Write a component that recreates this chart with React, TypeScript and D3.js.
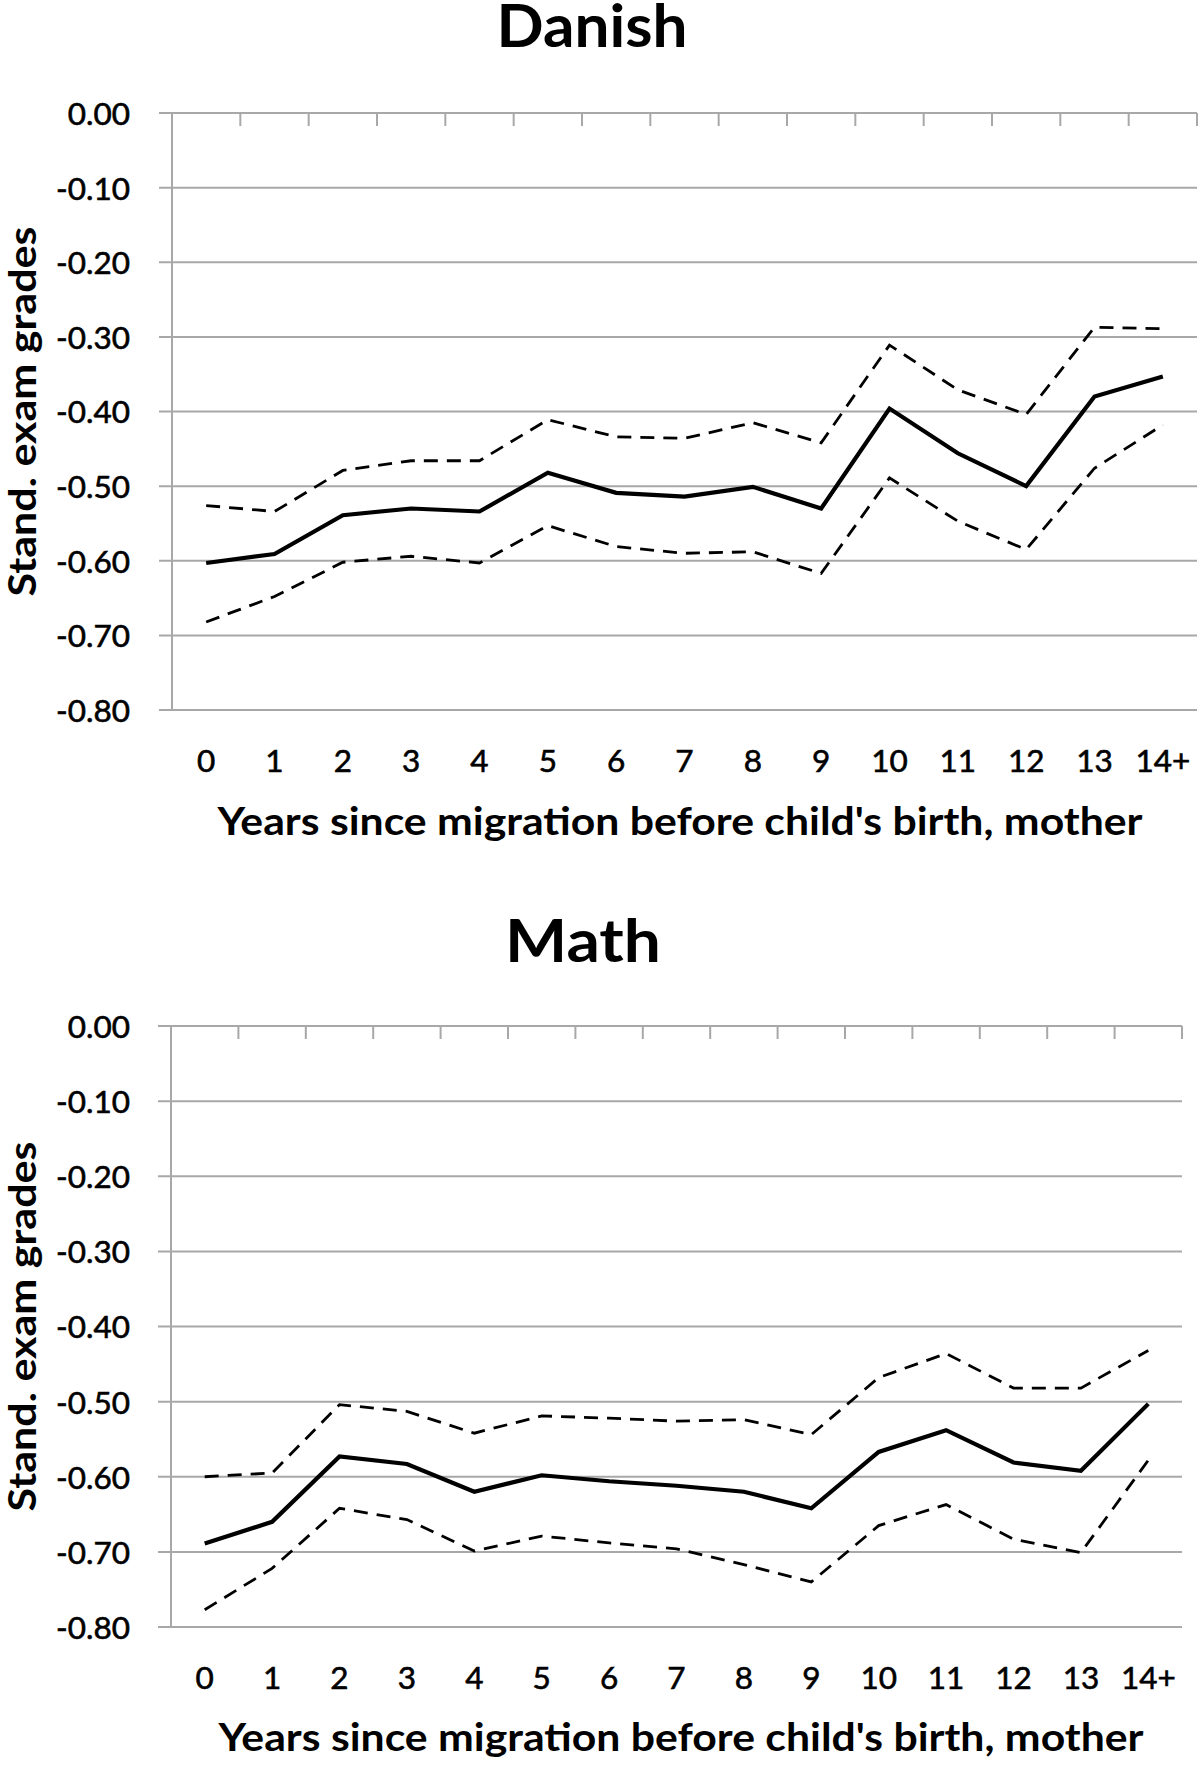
import React from "react";
import * as d3 from "d3";

const categories = ["0", "1", "2", "3", "4", "5", "6", "7", "8", "9", "10", "11", "12", "13", "14+"];
const yTicks = [0, -0.1, -0.2, -0.3, -0.4, -0.5, -0.6, -0.7, -0.8];

const danishMean = [-0.603, -0.591, -0.539, -0.530, -0.534, -0.482, -0.509, -0.514, -0.501, -0.530, -0.396, -0.456, -0.500, -0.380, -0.353];
const danishUpper = [-0.526, -0.534, -0.479, -0.466, -0.466, -0.411, -0.434, -0.436, -0.415, -0.442, -0.311, -0.371, -0.404, -0.287, -0.289];
const danishLower = [-0.682, -0.648, -0.602, -0.594, -0.603, -0.553, -0.581, -0.590, -0.588, -0.617, -0.489, -0.547, -0.585, -0.476, -0.418];

const mathMean = [-0.689, -0.660, -0.573, -0.583, -0.620, -0.598, -0.606, -0.612, -0.620, -0.642, -0.567, -0.538, -0.581, -0.592, -0.503];
const mathUpper = [-0.600, -0.595, -0.504, -0.513, -0.542, -0.519, -0.522, -0.526, -0.524, -0.544, -0.468, -0.436, -0.482, -0.482, -0.432];
const mathLower = [-0.777, -0.722, -0.642, -0.657, -0.699, -0.679, -0.688, -0.696, -0.717, -0.740, -0.665, -0.637, -0.683, -0.701, -0.578];

const FONT = "Lato, 'Open Sans', sans-serif";
const GRID = "#a8a8a8";

type PanelProps = {
  title: string;
  titleX: number;
  titleY: number;
  titleLen: number;
  top: number;
  bottom: number;
  left: number;
  right: number;
  tickLabelY: number;
  xTitleX: number;
  xTitleY: number;
  mean: number[];
  upper: number[];
  lower: number[];
};

function Panel(p: PanelProps) {
  const x = d3.scaleBand<string>().domain(categories).range([p.left, p.right]);
  const y = d3.scaleLinear().domain([0, -0.8]).range([p.top, p.bottom]);
  const line = d3
    .line<number>()
    .x((_, i) => (x(categories[i]) as number) + x.bandwidth() / 2)
    .y((v) => y(v));
  const boundaries = d3.range(categories.length + 1).map((i) => p.left + i * x.bandwidth());
  return (
    <g>
      <text
        x={p.titleX}
        y={p.titleY}
        textAnchor="middle"
        fontFamily={FONT}
        fontWeight={700}
        fontSize={59}
        textLength={p.titleLen}
        lengthAdjust="spacingAndGlyphs"
        fill="#000"
      >
        {p.title}
      </text>
      {yTicks.map((t) => (
        <g key={t}>
          <line x1={p.left - 13} x2={p.right} y1={y(t)} y2={y(t)} stroke={GRID} strokeWidth={2} />
          <text
            x={130}
            y={y(t)}
            dy="0.38em"
            textAnchor="end"
            fontFamily={FONT}
            fontSize={31.5}
            fill="#000"
            stroke="#000"
            strokeWidth={0.6}
          >
            {t.toFixed(2).replace("-0.00", "0.00")}
          </text>
        </g>
      ))}
      <line x1={p.left} x2={p.left} y1={p.top} y2={p.bottom} stroke={GRID} strokeWidth={2} />
      {boundaries.map((bx, i) => (
        <line key={i} x1={bx} x2={bx} y1={p.top} y2={p.top + 13} stroke={GRID} strokeWidth={2} />
      ))}
      {categories.map((c) => (
        <text
          key={c}
          x={(x(c) as number) + x.bandwidth() / 2}
          y={p.tickLabelY}
          dy="0.38em"
          textAnchor="middle"
          fontFamily={FONT}
          fontSize={31.5}
          fill="#000"
          stroke="#000"
          strokeWidth={0.6}
        >
          {c}
        </text>
      ))}
      <text
        x={p.xTitleX}
        y={p.xTitleY}
        textAnchor="middle"
        fontFamily={FONT}
        fontWeight={700}
        fontSize={39}
        textLength={925}
        lengthAdjust="spacingAndGlyphs"
        fill="#000"
      >
        Years since migration before child's birth, mother
      </text>
      <text
        transform={`translate(36, ${(p.top + p.bottom) / 2}) rotate(-90)`}
        textAnchor="middle"
        fontFamily={FONT}
        fontWeight={700}
        fontSize={38}
        textLength={370}
        lengthAdjust="spacingAndGlyphs"
        fill="#000"
      >
        Stand. exam grades
      </text>
      <path d={line(p.upper) as string} fill="none" stroke="#000" strokeWidth={2.8} strokeDasharray="14 9" />
      <path d={line(p.lower) as string} fill="none" stroke="#000" strokeWidth={2.8} strokeDasharray="14 9" />
      <path d={line(p.mean) as string} fill="none" stroke="#000" strokeWidth={4.2} strokeLinejoin="miter" />
    </g>
  );
}

export default function App() {
  return (
    <svg width={1200} height={1768} style={{ position: "absolute", left: 0, top: 0, background: "#fff" }}>
      <rect x={0} y={0} width={1200} height={1768} fill="#fff" />
      <Panel
        title="Danish"
        titleX={592}
        titleY={47}
        titleLen={191}
        top={113}
        bottom={710}
        left={172}
        right={1197}
        tickLabelY={760}
        xTitleX={680}
        xTitleY={835}
        mean={danishMean}
        upper={danishUpper}
        lower={danishLower}
      />
      <Panel
        title="Math"
        titleX={583}
        titleY={962}
        titleLen={156}
        top={1026}
        bottom={1627}
        left={171}
        right={1182}
        tickLabelY={1677}
        xTitleX={681}
        xTitleY={1751}
        mean={mathMean}
        upper={mathUpper}
        lower={mathLower}
      />
    </svg>
  );
}
